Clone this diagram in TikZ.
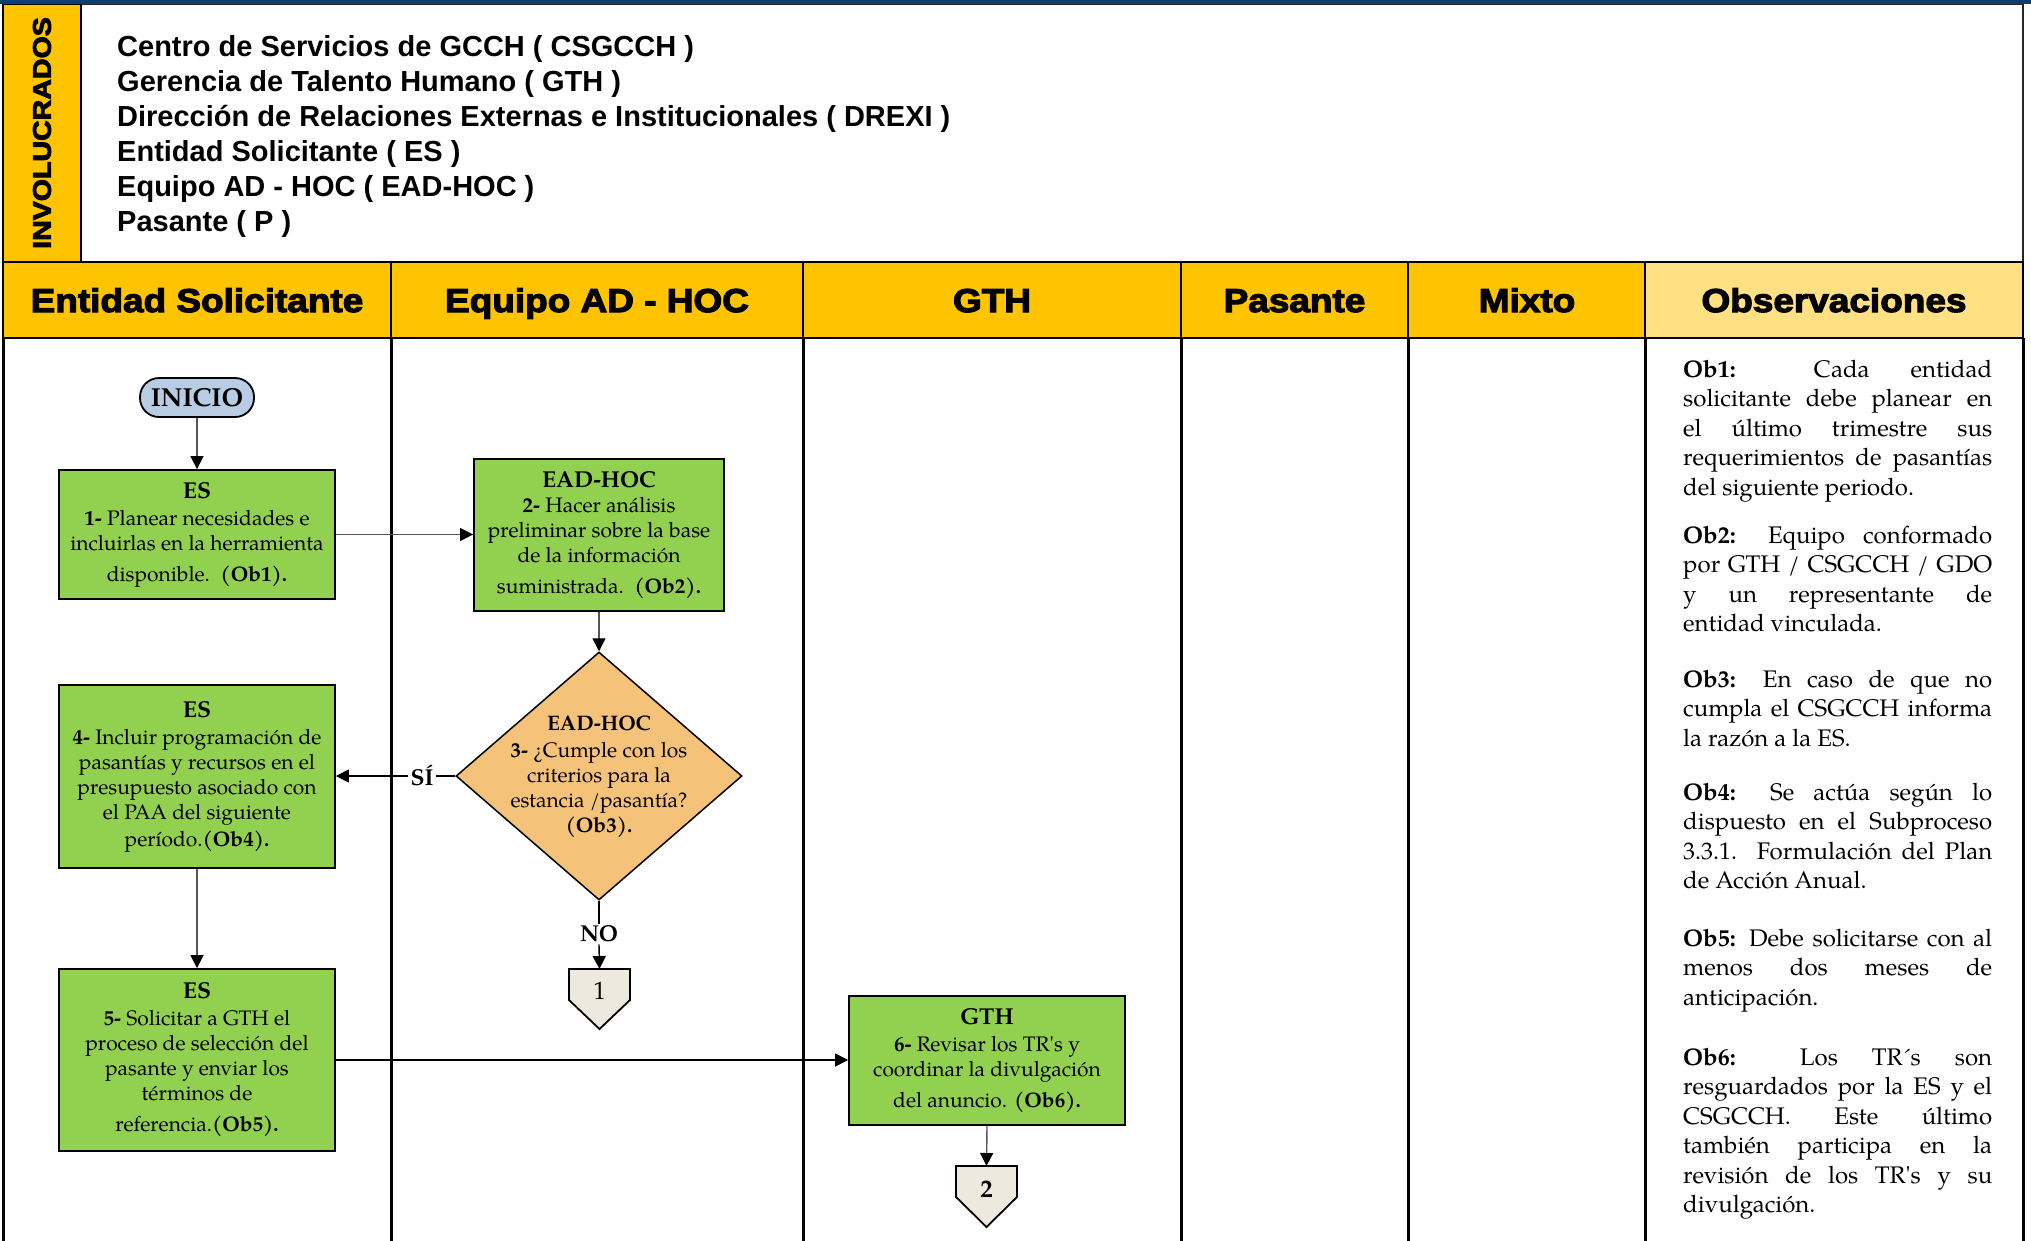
\documentclass[tikz,border=0pt]{standalone}
\usepackage{fontspec}
\setmainfont{TeX Gyre Pagella}
\newfontfamily\hdrfont[FakeStretch=1.12,BoldFeatures={FakeBold=3.5}]{Liberation Sans}
\newfontfamily\listfont{Liberation Sans}
\usetikzlibrary{arrows.meta,shapes.geometric}

\definecolor{navy}{RGB}{12,62,112}
\definecolor{hdryellow}{RGB}{255,196,0}
\definecolor{obsyellow}{RGB}{255,224,130}
\definecolor{taskgreen}{RGB}{146,208,80}
\definecolor{decorange}{RGB}{245,194,122}
\definecolor{startblue}{RGB}{184,204,228}
\definecolor{pagebeige}{RGB}{238,233,222}
\definecolor{flowgray}{RGB}{85,85,85}

% justified notes: keep the chosen line breaks, no hyphenation
\hyphenpenalty=10000
\exhyphenpenalty=10000
\tolerance=10000
\hbadness=10000
\newcommand{\apos}{\textquotesingle}

\begin{document}
\begin{tikzpicture}[x=1pt,y=-1pt,
  lane/.style={line width=3pt, black},
  hdrcell/.style={draw=black, line width=2.5pt},
  hdrtext/.style={font=\hdrfont\bfseries\fontsize{33}{33}\selectfont, inner sep=0pt, anchor=base},
  listline/.style={font=\listfont\bfseries\fontsize{29}{35}\selectfont, anchor=base west, inner sep=0pt},
  task/.style={draw=black, line width=1.8pt, fill=taskgreen, inner sep=0pt, align=center,
               font=\fontsize{21}{25}\selectfont},
  startnode/.style={draw=black, line width=1.8pt, fill=startblue, rounded corners=19pt,
                    minimum width=114pt, minimum height=39pt, inner sep=0pt,
                    font=\bfseries\fontsize{26}{26}\selectfont},
  decision/.style={diamond, draw=black, line width=1.5pt, fill=decorange,
                   minimum width=286pt, minimum height=248pt, inner sep=0pt},
  pagelink/.style={draw=black, line width=1.8pt, fill=pagebeige},
  flow/.style={draw=flowgray, line width=1.4pt,
               -{Triangle[length=13pt,width=13pt,fill=black,color=black]}},
  plainline/.style={draw=flowgray, line width=1.4pt},
  flowlabel/.style={fill=white, inner sep=2pt, font=\bfseries\fontsize{23}{23}\selectfont},
  obsnote/.style={anchor=base west, inner sep=0pt, text width=309pt, align=justify,
                  font=\fontsize{24}{29.5}\selectfont},
]
\useasboundingbox (0,0) rectangle (2031,1240);
\fill[white] (0,0) rectangle (2031,1240);

% ---- top block: list of participants ----
\fill[navy] (0,0) rectangle (2031,3.5);
\draw[line width=1.5pt, draw=black!85] (81,4.5) rectangle (2023,262);
\draw[line width=1.5pt, fill=hdryellow] (3,4.5) rectangle (81,262);
\node[rotate=90, inner sep=0pt, font=\hdrfont\bfseries\fontsize{25.5}{25.5}\selectfont]
  (invol) at (42,133) {INVOLUCRADOS};

\node[listline] (p1) at (117,56)  {Centro de Servicios de GCCH ( CSGCCH )};
\node[listline] (p2) at (117,91)  {Gerencia de Talento Humano ( GTH )};
\node[listline] (p3) at (117,126) {Dirección de Relaciones Externas e Institucionales ( DREXI )};
\node[listline] (p4) at (117,161) {Entidad Solicitante ( ES )};
\node[listline] (p5) at (117,196) {Equipo AD - HOC ( EAD-HOC )};
\node[listline] (p6) at (117,231) {Pasante ( P )};

% ---- lane headers ----
\draw[hdrcell, fill=hdryellow] (3,262) rectangle (391,338);
\draw[hdrcell, fill=hdryellow] (391,262) rectangle (803,338);
\draw[hdrcell, fill=hdryellow] (803,262) rectangle (1181,338);
\draw[hdrcell, fill=hdryellow] (1181,262) rectangle (1408,338);
\draw[hdrcell, fill=hdryellow] (1408,262) rectangle (1645,338);
\draw[hdrcell, fill=obsyellow] (1645,262) rectangle (2023,338);

\node[hdrtext] (h1) at (197,312)    {Entidad Solicitante};
\node[hdrtext] (h2) at (597,312)    {Equipo AD - HOC};
\node[hdrtext] (h3) at (992,312)    {GTH};
\node[hdrtext] (h4) at (1294.5,312) {Pasante};
\node[hdrtext] (h5) at (1527,312)   {Mixto};
\node[hdrtext] (h6) at (1834,312)   {Observaciones};

% ---- lanes ----
\foreach \x in {3,391,803,1181,1408,1645,2023}
  \draw[lane] (\x,338) -- (\x,1245);

% ---- flow nodes ----
\node[startnode] (start) at (197,397.5) {INICIO};

\node[task, minimum width=276pt, minimum height=129pt] (t1) at (197,534.5)
  {{\bfseries\fontsize{23}{25}\selectfont ES}\\[2pt]
   \textbf{1-} Planear necesidades e\\
   incluirlas en la herramienta\\[6pt]
   disponible.\ \ \textbf{(Ob1).}};

\node[task, minimum width=250pt, minimum height=152pt] (t2) at (599,535)
  {{\bfseries\fontsize{23}{25}\selectfont EAD-HOC}\\
   \textbf{2-} Hacer análisis\\
   preliminar sobre la base\\
   de la información\\[6pt]
   suministrada.\ \ \textbf{(Ob2).}};

\node[decision] (dec) at (599,776) {};
\node[align=center, inner sep=0pt, font=\fontsize{21}{25}\selectfont] (dectext) at (599,777)
  {\textbf{EAD-HOC}\\[2pt]
   \textbf{3-} ¿Cumple con los\\
   criterios para la\\
   estancia /pasantía?\\
   \textbf{(Ob3).}};

\node[task, minimum width=276pt, minimum height=183pt] (t4) at (197,776.5)
  {{\bfseries\fontsize{23}{25}\selectfont ES}\\[2pt]
   \textbf{4-} Incluir programación de\\
   pasantías y recursos en el\\
   presupuesto asociado con\\
   el PAA del siguiente\\[2pt]
   período.\textbf{(Ob4).}};

\node[task, minimum width=276pt, minimum height=182pt] (t5) at (197,1060)
  {{\bfseries\fontsize{23}{25}\selectfont ES}\\[2pt]
   \textbf{5-} Solicitar a GTH el\\
   proceso de selección del\\
   pasante y enviar los\\
   términos de\\[6pt]
   referencia.\textbf{(Ob5).}};

\node[task, minimum width=276pt, minimum height=129pt] (t6) at (987,1060.5)
  {{\bfseries\fontsize{23}{25}\selectfont GTH}\\[2pt]
   \textbf{6-} Revisar los TR\apos s y\\
   coordinar la divulgación\\[6pt]
   del anuncio. \textbf{(Ob6).}};

% off-page connectors
\draw[pagelink] (569,969) -- (630,969) -- (630,1000) -- (599.5,1029) -- (569,1000) -- cycle;
\coordinate (c1) at (599.5,969);
\node[inner sep=0pt, font=\fontsize{25}{25}\selectfont] (c1num) at (599.5,991) {1};

\draw[pagelink] (956,1166) -- (1017,1166) -- (1017,1197) -- (986.5,1227) -- (956,1197) -- cycle;
\coordinate (c2) at (986.5,1166);
\node[inner sep=0pt, font=\bfseries\fontsize{25}{25}\selectfont] (c2num) at (986.5,1189) {2};

% ---- branch labels ----
\node[flowlabel] (si) at (422,776) {SÍ};
\node[flowlabel] (no) at (599,934) {NO};

% ---- connectors ----
\draw[flow] (start.south) -- (t1.north);
\draw[flow] (t1.east) -- (t1.east -| t2.west);
\draw[flow] (t2.south) -- (dec.north);
\draw[plainline, draw=black] (dec.west) -- (si.east);
\draw[flow, draw=black] (si.west) -- (si.west -| t4.east);
\draw[plainline, draw=black] (dec.south) -- (no.north);
\draw[flow, draw=black] (no.south) -- (c1);
\draw[flow] (t4.south) -- (t5.north);
\draw[flow, draw=black] (t5.east) -- (t5.east -| t6.west);
\draw[flow] (t6.south) -- (c2);

% ---- observations ----
\node[obsnote] (ob1) at (1683,377)
  {\textbf{Ob1:} Cada entidad\linebreak
   solicitante debe planear en\linebreak
   el último trimestre sus\linebreak
   requerimientos de pasantías\linebreak
   del siguiente periodo.};
\node[obsnote] (ob2) at (1683,543)
  {\textbf{Ob2:} Equipo conformado\linebreak
   por GTH / CSGCCH / GDO\linebreak
   y un representante de\linebreak
   entidad vinculada.};
\node[obsnote] (ob3) at (1683,687)
  {\textbf{Ob3:} En caso de que no\linebreak
   cumpla el CSGCCH informa\linebreak
   la razón a la ES.};
\node[obsnote] (ob4) at (1683,800)
  {\textbf{Ob4:} Se actúa según lo\linebreak
   dispuesto en el Subproceso\linebreak
   3.3.1. Formulación del Plan\linebreak
   de Acción Anual.};
\node[obsnote] (ob5) at (1683,946)
  {\textbf{Ob5:} Debe solicitarse con al\linebreak
   menos dos meses de\linebreak
   anticipación.};
\node[obsnote] (ob6) at (1683,1065)
  {\textbf{Ob6:} Los TR´s son\linebreak
   resguardados por la ES y el\linebreak
   CSGCCH. Este último\linebreak
   también participa en la\linebreak
   revisión de los TR\apos s y su\linebreak
   divulgación.};
\end{tikzpicture}
\end{document}
